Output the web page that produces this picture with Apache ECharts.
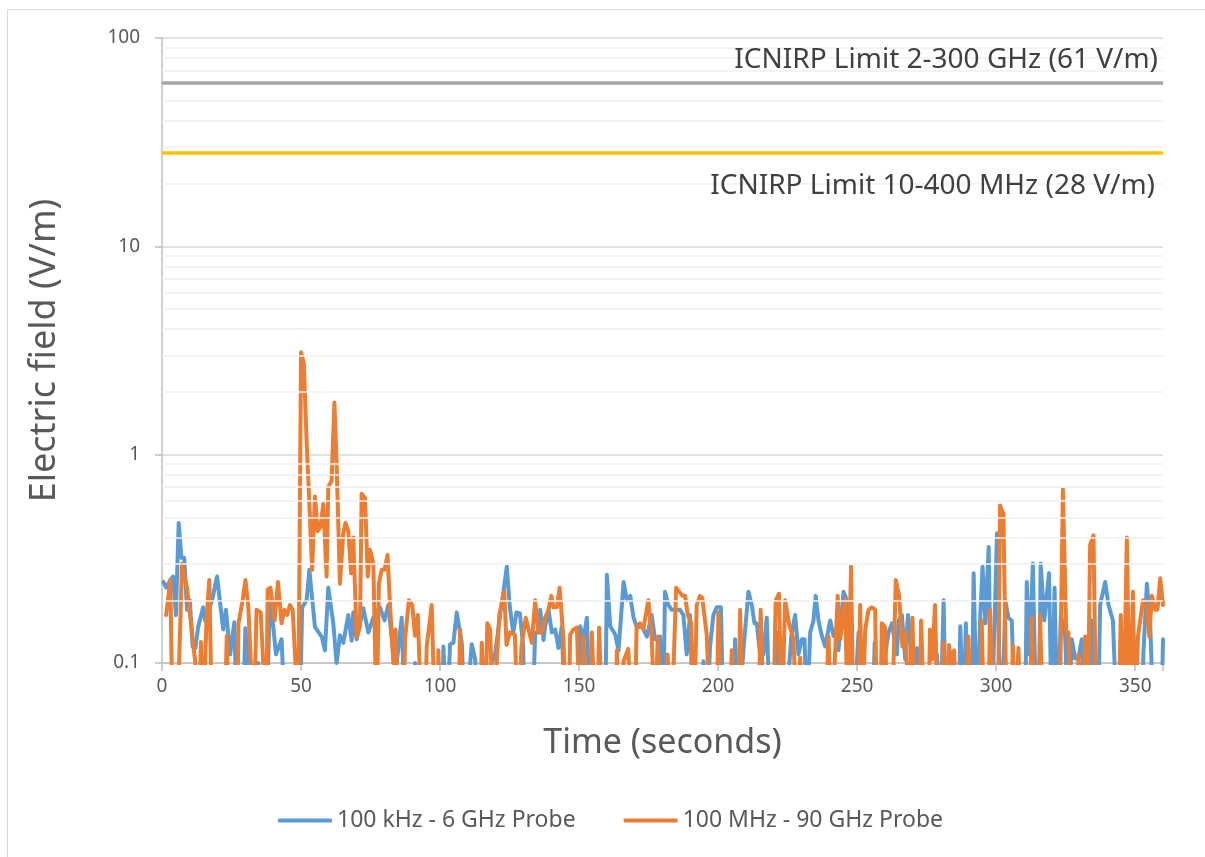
<!DOCTYPE html>
<html>
<head>
<meta charset="utf-8">
<script src="https://cdn.jsdelivr.net/npm/echarts@6.0.0/dist/echarts.min.js"></script>
<style>
  html, body { margin: 0; padding: 0; background: #fff; }
  #chart { width: 1205px; height: 857px; }
</style>
</head>
<body>
<div id="chart"></div>
<script>
// readings: [time (s), field (V/m)]; 0.05 = below the 0.1 floor
let probe6GHz = [
  [0.5,0.245],[1.5,0.23],[3,0.25],[4,0.26],[5,0.17],[6,0.47],[7,0.32],[8,0.32],[9,0.18],[10,0.2],
  [11,0.12],[12,0.118],[13,0.149],[14.8,0.185],[15.5,0.16],[18,0.2],[19.8,0.26],[22,0.145],[23,0.18],[24.5,0.11],
  [26,0.157],[27,0.05],[29,0.05],[30,0.147],[31,0.1],[32,0.05],[34,0.05],[34.6,0.1],[35.5,0.05],[37.5,0.05],
  [38.8,0.195],[39.8,0.16],[41,0.11],[43,0.13],[44.4,0.05],[49.5,0.05],[50.4,0.185],[52,0.2],[53,0.28],[55,0.149],
  [57.5,0.133],[58.6,0.115],[59.8,0.23],[61.6,0.155],[62.8,0.1],[64,0.136],[65.2,0.125],[67,0.17],[68.2,0.128],[68.8,0.175],
  [70,0.13],[72.4,0.183],[74.2,0.14],[76,0.165],[78.4,0.185],[80,0.16],[81.4,0.19],[83.2,0.11],[84.4,0.1],[86.2,0.165],
  [87.4,0.05],[90.5,0.05],[91,0.1],[92.2,0.05],[100.8,0.05],[101.2,0.12],[102.4,0.05],[103.6,0.123],[104.8,0.125],[106,0.175],
  [107.8,0.125],[109,0.05],[111.4,0.123],[112.6,0.105],[113.8,0.05],[118.6,0.1],[119.8,0.11],[121.6,0.17],[122.8,0.22],[124,0.29],
  [125.1,0.185],[126.3,0.14],[127.5,0.175],[128.7,0.173],[129.9,0.12],[130.4,0.05],[133.2,0.05],[134.2,0.14],[135.4,0.14],[136,0.18],
  [137.2,0.129],[137.8,0.15],[139,0.18],[140.2,0.14],[141.4,0.145],[142.6,0.118],[143.8,0.15],[145,0.05],[149.8,0.05],[150.4,0.15],
  [151.6,0.13],[152.8,0.165],[154,0.05],[159.4,0.05],[160,0.265],[161.2,0.15],[163,0.137],[164.2,0.115],[166,0.245],[167.2,0.2],
  [168.4,0.21],[169.6,0.165],[170.8,0.148],[172.6,0.15],[174.4,0.134],[176.1,0.17],[177.3,0.13],[179.1,0.134],[180.2,0.05],[180.9,0.22],
  [182.1,0.19],[183.3,0.18],[184.5,0.18],[186.3,0.18],[187.5,0.17],[188.7,0.11],[189.9,0.17],[191.1,0.05],[194.2,0.05],[194.7,0.102],
  [195.9,0.05],[197.1,0.12],[198.3,0.17],[199.5,0.185],[201,0.185],[201.9,0.05],[205.4,0.05],[206.1,0.13],[207.3,0.05],[209.1,0.115],
  [210.9,0.22],[212.1,0.19],[213.1,0.155],[213.9,0.155],[215.1,0.11],[216.3,0.11],[217.5,0.165],[218.7,0.05],[220.8,0.05],[221.7,0.14],
  [222.9,0.12],[224.1,0.05],[226.3,0.134],[227.7,0.17],[228.9,0.11],[230.1,0.13],[231.1,0.13],[231.9,0.05],[233.1,0.14],[234.3,0.16],
  [235.1,0.21],[236.1,0.16],[237.3,0.135],[238.5,0.12],[240.3,0.16],[241.5,0.135],[242.5,0.145],[243.3,0.115],[245.1,0.22],[246.3,0.2],
  [247.5,0.134],[248.7,0.05],[250.5,0.14],[251.7,0.05],[255.6,0.05],[256.3,0.125],[257.7,0.05],[259.6,0.05],[260.1,0.11],[261.3,0.14],
  [262.5,0.155],[264.3,0.11],[264.9,0.16],[266.1,0.17],[267.3,0.104],[268.3,0.17],[269.1,0.13],[270.3,0.05],[271.5,0.118],[272.7,0.05],
  [278.1,0.05],[278.7,0.11],[279.9,0.05],[280.6,0.05],[281.1,0.2],[281.9,0.05],[286.5,0.05],[287.1,0.15],[288.3,0.05],[289.1,0.155],
  [290.1,0.05],[291.2,0.05],[291.9,0.27],[293.1,0.05],[294.3,0.17],[295.1,0.29],[296.1,0.155],[297.3,0.36],[298.3,0.05],[299.5,0.17],
  [300.3,0.42],[301.1,0.11],[302.1,0.05],[303.3,0.2],[304.4,0.165],[305.6,0.16],[306.8,0.05],[310.4,0.05],[311,0.245],[312,0.11],
  [313.2,0.3],[314.4,0.05],[315.4,0.05],[316,0.3],[317.3,0.16],[319,0.27],[320,0.05],[321,0.23],[322,0.05],[323.3,0.17],
  [324.8,0.135],[326,0.05],[327.2,0.13],[328.4,0.105],[329.6,0.106],[330.8,0.13],[332,0.05],[333.8,0.05],[334.4,0.16],[335.6,0.05],
  [336.6,0.05],[337.4,0.19],[339.2,0.245],[340.4,0.19],[342,0.16],[343.4,0.05],[352.2,0.05],[353,0.115],[354.2,0.24],[355.4,0.155],
  [356.6,0.05],[359.4,0.05],[360,0.13]
];

let probe90GHz = [
  [1.5,0.17],[3,0.25],[3.8,0.05],[5.5,0.05],[7.2,0.3],[8.3,0.25],[9,0.23],[12,0.1],[12.5,0.05],[13.3,0.05],
  [14,0.126],[14.8,0.05],[15.4,0.05],[16,0.16],[17,0.25],[18,0.05],[22.5,0.05],[23.3,0.135],[24,0.05],[27,0.05],
  [27.5,0.155],[29,0.2],[30,0.25],[31,0.19],[33,0.05],[34,0.18],[35.5,0.175],[37.5,0.05],[38,0.225],[39,0.23],
  [40.5,0.16],[41.7,0.245],[43,0.155],[44,0.18],[45,0.17],[46,0.19],[47,0.18],[48,0.1],[49,0.05],[50,3.1],
  [51,2.75],[52,1.17],[52.8,0.67],[54,0.28],[55,0.63],[56,0.43],[57,0.45],[58,0.58],[59.2,0.26],[59.8,0.7],
  [61,0.75],[62,1.78],[62.8,0.91],[64,0.24],[65.2,0.42],[66,0.47],[67,0.43],[68,0.27],[68.8,0.4],[70,0.133],
  [71.2,0.15],[71.8,0.65],[73,0.62],[74,0.26],[74.8,0.35],[76,0.3],[77.2,0.05],[78,0.24],[79,0.28],[80,0.28],
  [81.1,0.33],[82,0.19],[83.2,0.1],[84,0.145],[85,0.05],[86.8,0.05],[87.4,0.13],[88.8,0.2],[90,0.19],[91,0.135],
  [92,0.17],[93.4,0.05],[94.6,0.05],[95.2,0.12],[97,0.19],[98.2,0.05],[99,0.05],[99.4,0.115],[100,0.05],[106.6,0.05],
  [107.2,0.145],[108.4,0.05],[114.4,0.05],[115,0.125],[116.2,0.05],[117,0.155],[118,0.145],[119.2,0.05],[121.3,0.17],[123.1,0.22],
  [123.9,0.122],[125.1,0.14],[126.9,0.137],[128.1,0.05],[129.3,0.12],[130.8,0.165],[131.8,0.145],[133,0.125],[134.2,0.2],[135.4,0.14],
  [136.6,0.14],[137.8,0.165],[139,0.18],[140,0.21],[140.8,0.185],[142,0.185],[143,0.23],[144.4,0.13],[145.3,0.05],[146.2,0.05],
  [146.8,0.137],[148,0.145],[149.2,0.148],[150.4,0.05],[151.6,0.134],[152.8,0.05],[154,0.05],[154.6,0.14],[155.8,0.05],[156.6,0.05],
  [157.2,0.148],[158.4,0.05],[163,0.05],[163.6,0.115],[164.4,0.05],[165.5,0.05],[166,0.102],[167.7,0.117],[168.9,0.05],[170,0.05],
  [170.7,0.15],[171.9,0.155],[173.1,0.145],[174.9,0.2],[176.1,0.134],[177.3,0.05],[178.3,0.134],[179.5,0.05],[181,0.05],[181.8,0.11],
  [183.3,0.05],[184.9,0.23],[186,0.22],[187.2,0.21],[188.1,0.21],[189.1,0.17],[190.3,0.155],[191.4,0.05],[192.3,0.19],[193.5,0.21],
  [194.3,0.205],[195.9,0.137],[197.1,0.05],[199.5,0.05],[200.1,0.175],[201,0.05],[204,0.05],[204.9,0.115],[206.1,0.05],[207.3,0.05],
  [207.9,0.18],[209.1,0.05],[214.5,0.05],[215.3,0.18],[216.5,0.05],[219.8,0.05],[220.7,0.2],[221.9,0.215],[222.9,0.05],[223.5,0.05],
  [224.1,0.2],[225.5,0.155],[227.1,0.13],[228.3,0.05],[229.5,0.106],[230.7,0.05],[238.5,0.05],[239.7,0.134],[240.9,0.05],[243,0.21],
  [243.9,0.13],[244.7,0.155],[245.7,0.2],[246.6,0.05],[247.8,0.29],[248.7,0.05],[250.3,0.05],[251.1,0.19],[251.9,0.05],[252.9,0.145],
  [254.1,0.18],[255.3,0.185],[256.5,0.18],[257.1,0.05],[258.3,0.05],[258.9,0.155],[260.1,0.148],[260.7,0.05],[262.5,0.05],[263.9,0.25],
  [265.1,0.21],[266.3,0.12],[267.5,0.14],[268.7,0.05],[269.9,0.165],[270.8,0.05],[272.4,0.05],[273,0.16],[274.2,0.05],[275.6,0.05],
  [276.2,0.145],[277.1,0.104],[278,0.19],[279,0.05],[280.4,0.05],[281,0.125],[281.8,0.05],[282.4,0.05],[283,0.122],[284,0.1],
  [284.9,0.115],[285.8,0.05],[289.4,0.05],[290,0.134],[290.9,0.05],[294.2,0.05],[294.8,0.16],[295.7,0.05],[297.2,0.05],[297.8,0.18],
  [299,0.05],[300.6,0.05],[301.4,0.57],[302.6,0.52],[303.8,0.05],[305.4,0.05],[306,0.122],[306.8,0.05],[307.4,0.05],[308,0.118],
  [308.9,0.05],[312,0.05],[312.8,0.165],[313.7,0.05],[315.2,0.05],[315.8,0.17],[316.8,0.05],[322.8,0.05],[324,0.68],[325.2,0.14],
  [326,0.14],[326.9,0.05],[328.9,0.05],[329.6,0.11],[330.5,0.05],[331.4,0.05],[332,0.134],[332.9,0.05],[333.2,0.05],[333.8,0.37],
  [335,0.41],[336,0.05],[344,0.05],[344.8,0.17],[345.8,0.05],[346.3,0.05],[347,0.4],[348,0.05],[348.6,0.05],[349.2,0.22],
  [350,0.05],[350.5,0.05],[351,0.134],[352.8,0.2],[354.2,0.185],[355.1,0.134],[356,0.21],[357.2,0.18],[358,0.18],[359,0.255],
  [360,0.19]
];

let seriesNames = ["100 kHz - 6 GHz Probe", "100 MHz - 90 GHz Probe"];
let limitValues = [61, 28];
let limitLabels = ["ICNIRP Limit 2-300 GHz (61 V/m)", "ICNIRP Limit 10-400 MHz (28 V/m)"];
let minorGrid = [0.2,0.3,0.4,0.5,0.6,0.7,0.8,0.9, 2,3,4,5,6,7,8,9, 20,30,40,50,60,70,80,90];

let font = "Noto Sans";
let grey = "#595959";

let chart = echarts.init(document.getElementById("chart"));

let option = {
  animation: false,
  backgroundColor: "#fff",
  graphic: [
    {
      type: "rect",
      shape: { x: 7.5, y: 9.5, width: 1220, height: 870 },
      style: { fill: null, stroke: "#D9D9D9", lineWidth: 1 },
      silent: true
    }
  ],
  grid: {
    left: 162,
    right: 42,
    top: 38,
    bottom: 194
  },
  legend: {
    data: seriesNames,
    left: 278,
    top: 809,
    padding: 0,
    icon: "roundRect",
    itemWidth: 54,
    itemHeight: 4,
    itemGap: 48,
    textStyle: { fontFamily: font, fontSize: 23, color: grey }
  },
  xAxis: {
    type: "value",
    min: 0,
    max: 360,
    interval: 50,
    name: "Time (seconds)",
    nameLocation: "middle",
    nameGap: 63,
    nameTextStyle: { fontFamily: font, fontSize: 34, color: grey },
    axisLine: { lineStyle: { color: "#BFBFBF", width: 1.5 } },
    axisTick: { show: true, length: 8, lineStyle: { color: "#BFBFBF", width: 1.5 } },
    axisLabel: {
      fontFamily: font, fontSize: 19, color: grey, margin: 14,
      formatter: v => (v % 50 === 0 ? String(v) : "")
    },
    splitLine: { show: false }
  },
  yAxis: {
    type: "log",
    logBase: 10,
    min: 0.1,
    max: 100,
    name: "Electric field (V/m)",
    nameLocation: "middle",
    nameGap: 99,
    nameTextStyle: { fontFamily: font, fontSize: 36, color: grey },
    axisLine: { show: true, lineStyle: { color: "#BFBFBF", width: 1.5 } },
    axisTick: { show: true, length: 7, lineStyle: { color: "#BFBFBF", width: 1.5 } },
    axisLabel: { fontFamily: font, fontSize: 19, color: grey, margin: 22 },
    splitLine: { show: true, lineStyle: { color: "#D9D9D9", width: 1.5 } }
  },
  series: [
    {
      // light minor gridlines of the log scale
      name: "minor",
      type: "line",
      data: [],
      z: 1,
      silent: true,
      markLine: {
        silent: true,
        symbol: ["none", "none"],
        label: { show: false },
        lineStyle: { color: "#EFEFEF", width: 1.5, type: "solid" },
        data: minorGrid.map(v => ({ yAxis: v }))
      }
    },
    {
      name: "limits",
      type: "line",
      data: [],
      z: 2,
      silent: true,
      markLine: {
        silent: true,
        symbol: ["none", "none"],
        data: [
          {
            yAxis: limitValues[0],
            lineStyle: { color: "#A5A5A5", width: 3.5, type: "solid" },
            label: {
              show: true, position: "insideEndTop", formatter: limitLabels[0],
              fontFamily: font, fontSize: 28, color: "#404040", distance: [5, 9]
            }
          },
          {
            yAxis: limitValues[1],
            lineStyle: { color: "#FFC000", width: 3.5, type: "solid" },
            label: {
              show: true, position: "insideEndBottom", formatter: limitLabels[1],
              fontFamily: font, fontSize: 28, color: "#404040", distance: [8, 19]
            }
          }
        ]
      }
    },
    {
      name: seriesNames[0],
      type: "line",
      data: probe6GHz,
      z: 3,
      symbol: "none",
      clip: true,
      lineStyle: { color: "#5B9BD5", width: 4, cap: "round", join: "round" },
      itemStyle: { color: "#5B9BD5" }
    },
    {
      name: seriesNames[1],
      type: "line",
      data: probe90GHz,
      z: 4,
      symbol: "none",
      clip: true,
      lineStyle: { color: "#ED7D31", width: 4, cap: "round", join: "round" },
      itemStyle: { color: "#ED7D31" }
    }
  ]
};

chart.setOption(option);
</script>
</body>
</html>
